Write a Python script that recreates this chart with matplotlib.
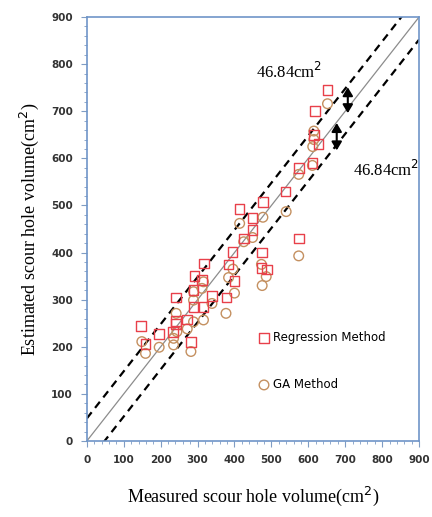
import matplotlib.pyplot as plt
import numpy as np
from matplotlib.ticker import MultipleLocator

# measured vs estimated scour hole volume
reg_measured = [147, 159, 196, 233, 241, 241, 242, 271, 282, 289, 289, 292, 316, 312, 318, 339, 378, 384,
                395, 400, 414, 425, 449, 449, 473, 475, 477, 488, 538, 574, 574, 611, 615, 618, 628, 652]
reg_estimated = [244, 206, 227, 231, 255, 248, 305, 258, 210, 321, 285, 350, 284, 342, 377, 308, 305, 375,
                 401, 340, 493, 430, 473, 448, 367, 400, 508, 364, 530, 430, 580, 590, 650, 700, 630, 745]

ga_measured = [149, 159, 196, 235, 235, 242, 244, 272, 282, 289, 289, 289, 312, 316, 316, 339, 377, 384,
               396, 400, 414, 425, 449, 473, 475, 477, 486, 540, 574, 574, 611, 612, 615, 615, 652]
ga_estimated = [211, 186, 199, 204, 218, 271, 232, 238, 190, 317, 299, 253, 324, 338, 257, 292, 271, 347,
                365, 314, 462, 423, 432, 375, 330, 475, 349, 487, 393, 566, 585, 625, 640, 658, 716]

band = 48  # vertical offset of the dashed lines
band_label = '46.84cm$^2$'

fig = plt.figure(figsize=(4.32, 5.17), dpi=100)
ax = fig.add_axes([0.201, 0.147, 0.769, 0.820])

line = np.array([0, 900])
ax.plot(line, line, color='#8c8c8c', lw=0.9, zorder=1)
ax.plot(line, line + band, color='black', lw=1.6, ls=(0, (3.5, 2.5)), zorder=1)
ax.plot(line, line - band, color='black', lw=1.6, ls=(0, (3.5, 2.5)), zorder=1)

ax.scatter(reg_measured, reg_estimated, marker='s', s=48, facecolors='none',
           edgecolors='#e8404a', linewidths=1.0, label='Regression Method', zorder=3)
ax.scatter(ga_measured, ga_estimated, marker='o', s=48, facecolors='none',
           edgecolors='#c49060', linewidths=1.0, label='GA Method', zorder=2)

# band annotations
ax.text(459, 783, band_label, fontsize=12, family='Liberation Serif', ha='left', va='center')
ax.text(722, 575, band_label, fontsize=12, family='Liberation Serif', ha='left', va='center')
arrow = dict(arrowstyle='<|-|>,head_length=0.5,head_width=0.3', color='black', lw=1.5,
             mutation_scale=10, shrinkA=0, shrinkB=0)
ax.annotate('', xy=(707, 751), xytext=(707, 696), arrowprops=arrow)
ax.annotate('', xy=(677, 675), xytext=(677, 617), arrowprops=arrow)

ax.set_xlim(0, 900)
ax.set_ylim(0, 900)
ax.xaxis.set_major_locator(MultipleLocator(100))
ax.yaxis.set_major_locator(MultipleLocator(100))
ax.xaxis.set_minor_locator(MultipleLocator(20))
ax.yaxis.set_minor_locator(MultipleLocator(20))
ax.tick_params(which='both', direction='out', color='#7f9cc4', labelsize=7.5,
               labelcolor='#333333', pad=6)
ax.tick_params(which='major', length=4)
ax.tick_params(which='minor', length=2.5)
for lab in ax.get_xticklabels() + ax.get_yticklabels():
    lab.set_fontweight('bold')
for s in ax.spines.values():
    s.set_color('#6f95c8')
    s.set_linewidth(1.2)

ax.set_xlabel('Measured scour hole volume(cm$^2$)', fontsize=13, family='Liberation Serif', labelpad=14)
ax.set_ylabel('Estimated scour hole volume(cm$^2$)', fontsize=13, family='Liberation Serif', labelpad=7)

ax.legend(loc='upper left', bbox_to_anchor=(0.48, 0.285), frameon=False, fontsize=8.5,
          labelspacing=2.9, handletextpad=0.2, handlelength=1.2)

fig.savefig('out.png', dpi=100)
